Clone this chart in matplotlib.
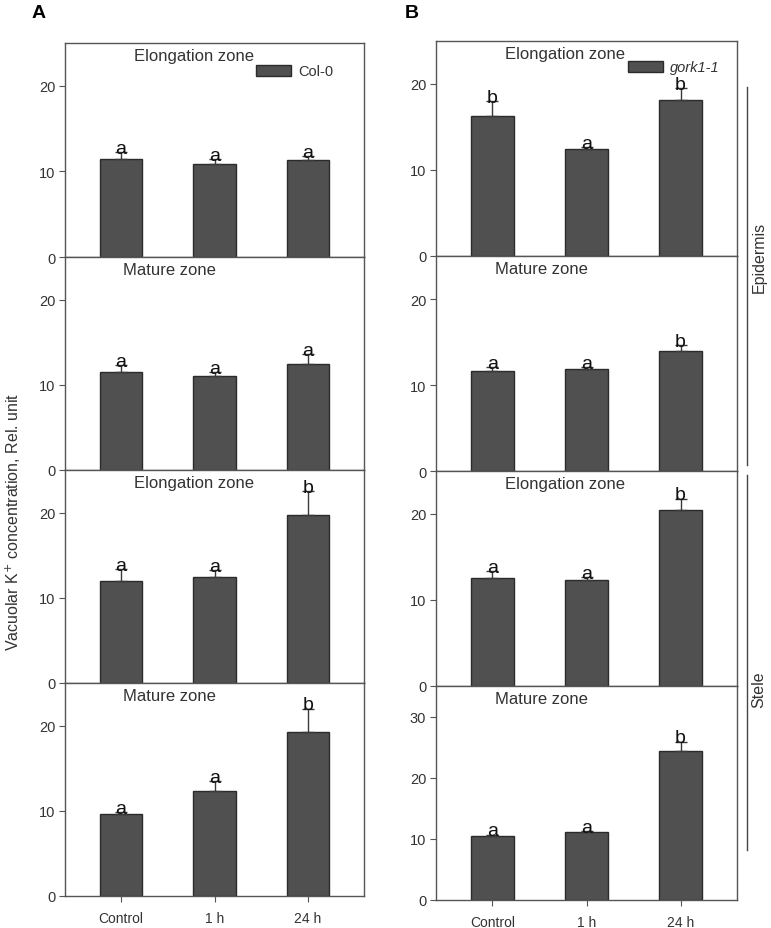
import matplotlib
matplotlib.use("Agg")
import matplotlib.pyplot as plt
import numpy as np

plt.rcParams['font.family'] = ['Liberation Sans', 'DejaVu Sans']

categories = ["Control", "1 h", "24 h"]
zones = ["Elongation zone", "Mature zone", "Elongation zone", "Mature zone"]

# Panel A (Col-0): means and upper SE
A_means = [
    [11.5, 10.9, 11.35],
    [11.5, 11.0, 12.5],
    [12.0, 12.5, 19.7],
    [9.6, 12.3, 19.3],
]
A_err = [
    [0.8, 0.5, 0.45],
    [0.8, 0.5, 1.1],
    [1.4, 0.8, 2.8],
    [0.25, 1.2, 2.7],
]
A_letters = [
    ["a", "a", "a"],
    ["a", "a", "a"],
    ["a", "a", "b"],
    ["a", "a", "b"],
]

# Panel B (gork1-1)
B_means = [
    [16.3, 12.4, 18.1],
    [11.6, 11.85, 13.95],
    [12.55, 12.3, 20.5],
    [10.5, 11.15, 24.4],
]
B_err = [
    [1.7, 0.3, 1.4],
    [0.5, 0.25, 0.7],
    [0.85, 0.4, 1.3],
    [0.2, 0.15, 1.5],
]
B_letters = [
    ["b", "a", "b"],
    ["a", "a", "b"],
    ["a", "a", "b"],
    ["a", "a", "b"],
]
B_ylims = [25, 25, 25, 35]
B_yticks = [[0, 10, 20], [0, 10, 20], [0, 10, 20], [0, 10, 20, 30]]

W, H = 771, 929
fig = plt.figure(figsize=(W / 100, H / 100), dpi=100)

def px_axes(x0, x1, y0, y1):
    return fig.add_axes([x0 / W, 1 - y1 / H, (x1 - x0) / W, (y1 - y0) / H])

bar_color = "#505050"
edge_color = "#2b2b2b"
spine_color = "#555555"

A_bounds = [44, 258, 471, 684, 897]
B_bounds = [42, 257, 472, 687, 901]

def draw_panel(ax, means, errs, letters, ylim, yticks, zone, bottom):
    x = np.arange(len(categories))
    ax.bar(x, means, width=0.45, color=bar_color, edgecolor=edge_color, linewidth=1.0,
           zorder=2)
    ax.errorbar(x, means, yerr=[np.zeros(len(means)), errs], fmt="none",
                ecolor="#3a3a3a", elinewidth=1.0, capsize=4.5, capthick=1.0, zorder=3)
    for xi, m, e, l in zip(x, means, errs, letters):
        ax.text(xi, m + e - 0.1 * ylim / 25, l, ha="center", va="baseline",
                fontsize=14, color="#111111", zorder=4)
    ax.set_xlim(-0.6, 2.6)
    ax.set_ylim(0, ylim)
    ax.set_yticks(yticks)
    ax.tick_params(axis="y", direction="out", length=4, width=0.8, color=spine_color,
                   labelsize=10.5, labelcolor="#333333", pad=3)
    if bottom:
        ax.set_xticks(x)
        ax.set_xticklabels(categories)
        ax.tick_params(axis="x", direction="out", length=4, width=0.8, color=spine_color,
                       labelsize=10, labelcolor="#333333", pad=7)
    else:
        ax.set_xticks([])
    for s in ax.spines.values():
        s.set_color(spine_color)
        s.set_linewidth(1.0)
    ax.text(0.43 if zone.startswith("Elong") else 0.35, 0.94, zone, transform=ax.transAxes,
            ha="center", va="center", fontsize=12, color="#333333")

A_axes = []
for i in range(4):
    ax = px_axes(65, 364, A_bounds[i], A_bounds[i + 1])
    draw_panel(ax, A_means[i], A_err[i], A_letters[i], 25, [0, 10, 20], zones[i], i == 3)
    A_axes.append(ax)

B_axes = []
for i in range(4):
    ax = px_axes(436, 737, B_bounds[i], B_bounds[i + 1])
    draw_panel(ax, B_means[i], B_err[i], B_letters[i], B_ylims[i], B_yticks[i], zones[i], i == 3)
    B_axes.append(ax)

from matplotlib.patches import Patch
hA = [Patch(facecolor=bar_color, edgecolor=edge_color, linewidth=1.0)]
A_axes[0].legend(hA, ["Col-0"], loc="center left", bbox_to_anchor=(0.639, 0.867),
                 frameon=False, fontsize=10.5, handlelength=2.4, handleheight=0.75,
                 handletextpad=0.5, borderpad=0, borderaxespad=0,
                 labelcolor="#333333")
B_axes[0].legend(hA, ["gork1-1"], loc="center left", bbox_to_anchor=(0.638, 0.877),
                 frameon=False, handlelength=2.4, handleheight=0.75,
                 handletextpad=0.5, borderpad=0, borderaxespad=0,
                 labelcolor="#333333", prop={"style": "italic", "size": 10.5})

# Panel letters
fig.text(32 / W, 1 - 14 / H, "A", fontsize=14, fontweight="bold", ha="left", va="center")
fig.text(405 / W, 1 - 14 / H, "B", fontsize=14, fontweight="bold", ha="left", va="center")

# Y label
fig.text(13 / W, 1 - 522 / H, "Vacuolar K$^{+}$ concentration, Rel. unit", rotation=90,
         ha="center", va="center", fontsize=11.5, color="#333333")

# Right-side brackets
line_x = 747 / W
fig.add_artist(plt.Line2D([line_x, line_x], [1 - 88 / H, 1 - 466 / H], color="#444444",
                          linewidth=1.0, transform=fig.transFigure))
fig.add_artist(plt.Line2D([line_x, line_x], [1 - 476 / H, 1 - 851 / H], color="#444444",
                          linewidth=1.0, transform=fig.transFigure))
fig.text(759 / W, 1 - 257 / H, "Epidermis", rotation=90, ha="center", va="center",
         fontsize=11.5, color="#333333")
fig.text(759 / W, 1 - 690 / H, "Stele", rotation=90, ha="center", va="center",
         fontsize=11.5, color="#333333")

fig.savefig("out.png", dpi=100, facecolor="white")
